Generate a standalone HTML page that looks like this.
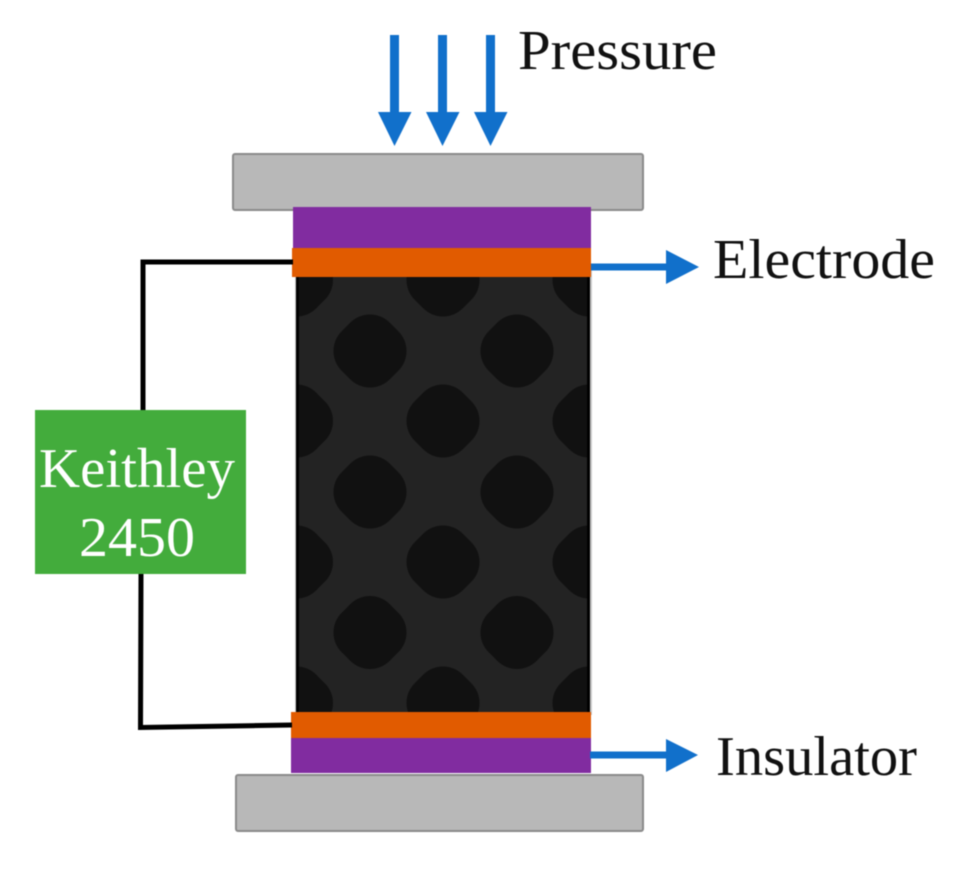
<!DOCTYPE html>
<html>
<head>
<meta charset="utf-8">
<style>
html,body{margin:0;padding:0;background:#fff;width:961px;height:870px;overflow:hidden}
svg{display:block;font-family:"Liberation Serif",serif;filter:blur(0.5px)}
</style>
</head>
<body>
<svg width="961" height="870" viewBox="0 0 961 870" xmlns="http://www.w3.org/2000/svg">
<defs>
<clipPath id="c"><rect x="296" y="270" width="294" height="445"/></clipPath>
<rect id="d" x="-34" y="-34" width="68" height="68" rx="28" ry="28" transform="rotate(45)"/>
</defs>

<!-- press plates -->
<rect x="233" y="154" width="410" height="56" rx="2" fill="#b8b8b8" stroke="#8a8a8a" stroke-width="2"/>
<rect x="236" y="775" width="407" height="56" rx="2" fill="#b8b8b8" stroke="#8a8a8a" stroke-width="2"/>

<!-- foam -->
<rect x="295" y="270" width="297" height="445" fill="#c8c8c8"/>
<rect x="296" y="270" width="294" height="445" fill="#232323"/>
<g clip-path="url(#c)" fill="#111111">
<use href="#d" x="296.500" y="280"/><use href="#d" x="443" y="280"/><use href="#d" x="589" y="280"/>
<use href="#d" x="370" y="351"/><use href="#d" x="517" y="351"/>
<use href="#d" x="296.500" y="421"/><use href="#d" x="443" y="421"/><use href="#d" x="589" y="421"/>
<use href="#d" x="370" y="492"/><use href="#d" x="517" y="492"/>
<use href="#d" x="296.500" y="562"/><use href="#d" x="443" y="562"/><use href="#d" x="589" y="562"/>
<use href="#d" x="370" y="632.500"/><use href="#d" x="517" y="632.500"/>
<use href="#d" x="296.500" y="703"/><use href="#d" x="443" y="703"/><use href="#d" x="589" y="703"/>
</g>
<rect x="296" y="270" width="3" height="445" fill="#000"/>
<rect x="587" y="270" width="3" height="445" fill="#000"/>

<!-- layers -->
<rect x="293" y="207" width="298" height="41" fill="#812ca0"/>
<rect x="292" y="248" width="299" height="29" fill="#e15b00"/>
<rect x="291" y="712" width="300" height="26" fill="#e15b00"/>
<rect x="291" y="738" width="300" height="35" fill="#812ca0"/>

<!-- wires -->
<path d="M293 262 H143 V410" fill="none" stroke="#000" stroke-width="5"/>
<path d="M141 573 L140.500 727.500 L292 725" fill="none" stroke="#000" stroke-width="5"/>

<!-- Keithley -->
<rect x="35" y="410" width="211" height="164" fill="#43ac3c"/>
<text x="39" y="487" font-size="56" fill="#fff" textLength="196" lengthAdjust="spacingAndGlyphs">Keithley</text>
<text x="79" y="556" font-size="56" fill="#fff" textLength="116" lengthAdjust="spacingAndGlyphs">2450</text>

<!-- arrows -->
<g fill="#1170cb">
<path d="M390 35h9v77h12.500l-17 34-16.500-34h12z"/>
<path d="M438 35h9v77h12.500l-17 34-16.500-34h12z"/>
<path d="M486 35h9v77h12.500l-17 34-16.500-34h12z"/>
<path d="M591 263.500h75V250l33 17-33 17v-13.500h-75z"/>
<path d="M590 751.500h76V739l32 16-32 17v-13.500h-76z"/>
</g>

<!-- labels -->
<text x="518" y="69" font-size="56" fill="#111" textLength="199" lengthAdjust="spacingAndGlyphs">Pressure</text>
<text x="713" y="278" font-size="56" fill="#111" textLength="222" lengthAdjust="spacingAndGlyphs">Electrode</text>
<text x="716" y="775" font-size="56" fill="#111" textLength="201" lengthAdjust="spacingAndGlyphs">Insulator</text>
</svg>
</body>
</html>
